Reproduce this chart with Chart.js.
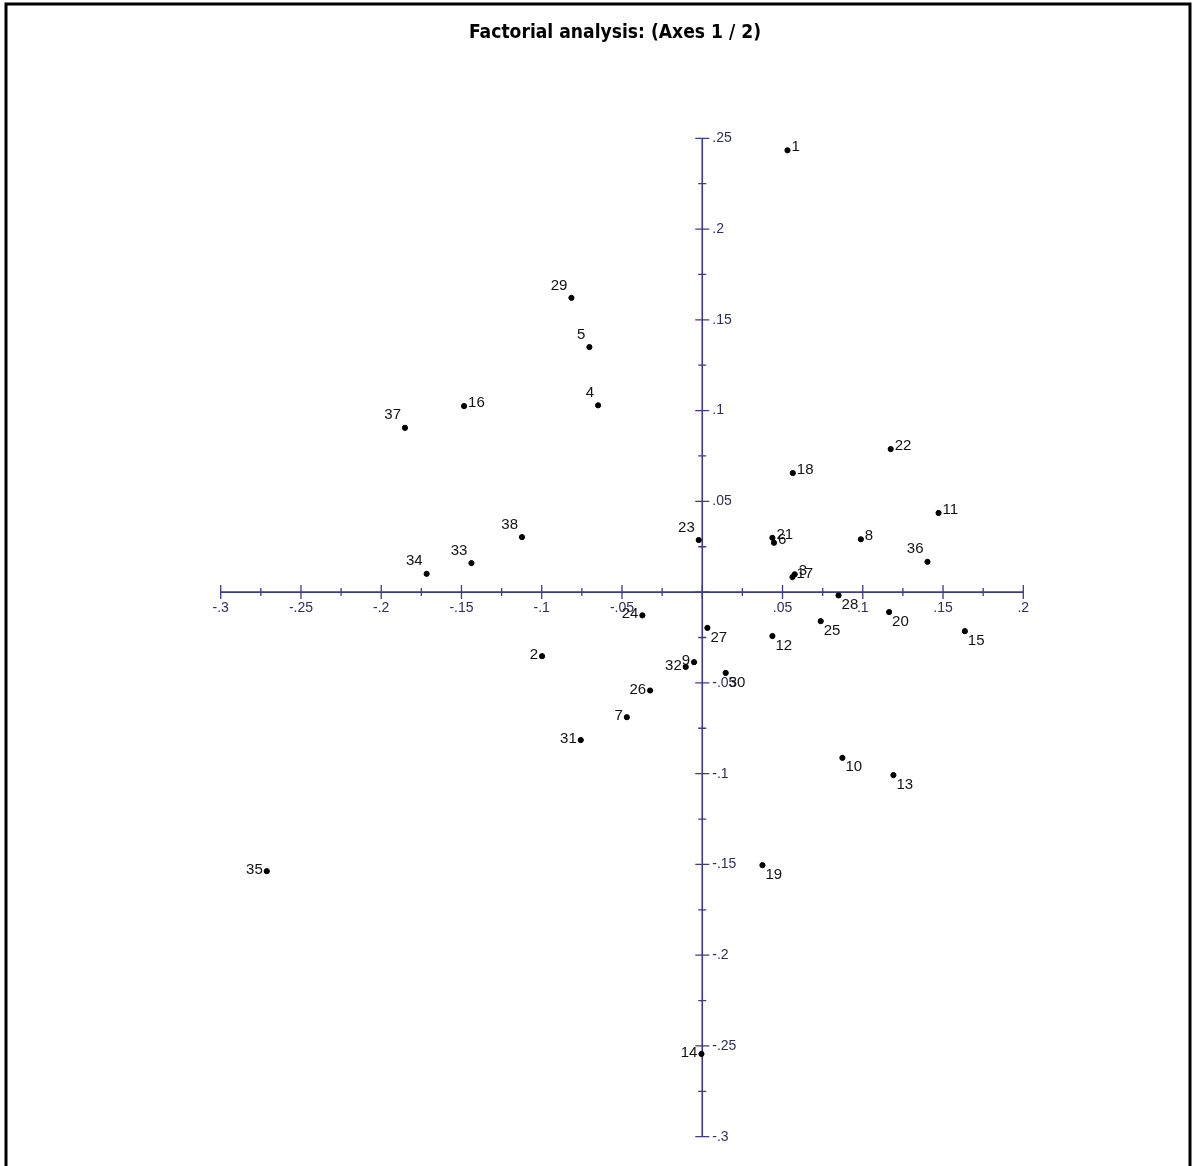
<!DOCTYPE html>
<html>
<head>
<meta charset="utf-8">
<script src="https://cdn.jsdelivr.net/npm/chart.js@4"></script>
<style>
  html, body { margin: 0; padding: 0; background: #fff; }
  #wrap { position: relative; width: 1195px; height: 1166px; }
</style>
</head>
<body>
<div id="wrap"><canvas id="factChart" width="1195" height="1166"></canvas></div>
<script>
// ---------------- data ----------------
var pointIds = [1, 2, 3, 4, 5, 6, 7, 8, 9, 10, 11, 12, 13, 14, 15, 16, 17, 18, 19,
                20, 21, 22, 23, 24, 25, 26, 27, 28, 29, 30, 31, 32, 33, 34, 35, 36, 37, 38];
var axis1 = [0.0531, -0.0998, 0.0576, -0.0649, -0.0703, 0.0447, -0.0470, 0.0988, -0.0051, 0.0873,
             0.1472, 0.0437, 0.1191, -0.0005, 0.1636, -0.1484, 0.0562, 0.0564, 0.0375, 0.1164,
             0.0437, 0.1174, -0.0022, -0.0373, 0.0738, -0.0325, 0.0032, 0.0849, -0.0815, 0.0146,
             -0.0757, -0.0103, -0.1438, -0.1717, -0.2713, 0.1403, -0.1852, -0.1123];
var axis2 = [0.2434, -0.0353, 0.0098, 0.1029, 0.1350, 0.0272, -0.0689, 0.0291, -0.0386, -0.0913,
             0.0436, -0.0242, -0.1008, -0.2544, -0.0215, 0.1025, 0.0083, 0.0656, -0.1504, -0.0110,
             0.0299, 0.0788, 0.0287, -0.0128, -0.0160, -0.0542, -0.0197, -0.0018, 0.1621, -0.0445,
             -0.0815, -0.0412, 0.0160, 0.0101, -0.1537, 0.0167, 0.0905, 0.0303];

var xTickValues = [-0.3, -0.25, -0.2, -0.15, -0.1, -0.05, 0.05, 0.1, 0.15, 0.2];
var xTickLabels = ['-.3', '-.25', '-.2', '-.15', '-.1', '-.05', '.05', '.1', '.15', '.2'];
var yTickValues = [0.25, 0.2, 0.15, 0.1, 0.05, -0.05, -0.1, -0.15, -0.2, -0.25, -0.3];
var yTickLabels = ['.25', '.2', '.15', '.1', '.05', '-.05', '-.1', '-.15', '-.2', '-.25', '-.3'];

// where each point's number sits (r = right, l = left, tl = above left, br = below right)
var labelSide = {
    1: 'r', 3: 'r', 6: 'r', 8: 'r', 11: 'r', 16: 'r', 17: 'r', 18: 'r', 21: 'r', 22: 'r',
    4: 'tl', 5: 'tl', 23: 'tl', 29: 'tl', 33: 'tl', 34: 'tl', 36: 'tl', 37: 'tl', 38: 'tl',
    10: 'br', 12: 'br', 13: 'br', 15: 'br', 19: 'br', 20: 'br', 25: 'br', 27: 'br', 28: 'br', 30: 'br',
    2: 'l', 7: 'l', 9: 'l', 14: 'l', 24: 'l', 26: 'l', 31: 'l', 32: 'l', 35: 'l'
};

var AXIS_COLOR = '#3b3b8a';
var TICK_TEXT = '#2e2e5e';
var LABEL_FONT = '15px "Liberation Sans Narrow", "Liberation Sans", Arial, sans-serif';

var points = pointIds.map(function (id, i) {
    return { x: axis1[i], y: axis2[i] };
});

// ------------------ axes through the origin, frame and title ------------------
var crossAxes = {
    id: 'crossAxes',
    beforeDatasetsDraw: function (chart) {
        var ctx = chart.ctx;
        var sx = chart.scales.x, sy = chart.scales.y;
        var x0 = sx.getPixelForValue(0), y0 = sy.getPixelForValue(0);
        ctx.save();
        ctx.strokeStyle = AXIS_COLOR;
        ctx.lineWidth = 1.6;
        ctx.beginPath();
        ctx.moveTo(sx.getPixelForValue(sx.min), y0);
        ctx.lineTo(sx.getPixelForValue(sx.max), y0);
        ctx.moveTo(x0, sy.getPixelForValue(sy.max));
        ctx.lineTo(x0, sy.getPixelForValue(sy.min));
        ctx.stroke();

        // ticks: major every .05, minor halfway
        ctx.lineWidth = 1.3;
        ctx.beginPath();
        var v, p;
        for (v = sx.min; v <= sx.max + 1e-9; v += 0.025) {
            p = sx.getPixelForValue(v);
            var major = Math.abs(Math.round(v / 0.05) * 0.05 - v) < 1e-6;
            var len = major ? 7 : 4;
            ctx.moveTo(p, y0 - len);
            ctx.lineTo(p, y0 + len);
        }
        for (v = sy.min; v <= sy.max + 1e-9; v += 0.025) {
            p = sy.getPixelForValue(v);
            var majorY = Math.abs(Math.round(v / 0.05) * 0.05 - v) < 1e-6;
            var lenY = majorY ? 7 : 4;
            ctx.moveTo(x0 - lenY, p);
            ctx.lineTo(x0 + lenY, p);
        }
        ctx.stroke();

        ctx.fillStyle = TICK_TEXT;
        ctx.font = '14px "Liberation Sans", Arial, sans-serif';
        ctx.textAlign = 'center';
        ctx.textBaseline = 'top';
        xTickValues.forEach(function (val, i) {
            ctx.fillText(xTickLabels[i], sx.getPixelForValue(val), y0 + 9);
        });
        ctx.textAlign = 'left';
        ctx.textBaseline = 'middle';
        yTickValues.forEach(function (val, i) {
            ctx.fillText(yTickLabels[i], x0 + 10, sy.getPixelForValue(val));
        });
        ctx.restore();
    },
    afterDatasetsDraw: function (chart) {
        var ctx = chart.ctx;
        var meta = chart.getDatasetMeta(0);
        ctx.save();
        ctx.fillStyle = '#111';
        ctx.font = LABEL_FONT;
        meta.data.forEach(function (el, i) {
            var id = pointIds[i];
            var side = labelSide[id] || 'r';
            var txt = String(id);
            if (side === 'r') {
                ctx.textAlign = 'left'; ctx.textBaseline = 'middle';
                ctx.fillText(txt, el.x + 4, el.y - 3);
            } else if (side === 'l') {
                ctx.textAlign = 'right'; ctx.textBaseline = 'middle';
                ctx.fillText(txt, el.x - 4, el.y - 1);
            } else if (side === 'tl') {
                ctx.textAlign = 'right'; ctx.textBaseline = 'bottom';
                ctx.fillText(txt, el.x - 4, el.y - 5);
            } else {
                ctx.textAlign = 'left'; ctx.textBaseline = 'top';
                ctx.fillText(txt, el.x + 3, el.y + 2);
            }
        });

        // title
        var title = 'Factorial analysis: (Axes 1 / 2)';
        ctx.font = 'bold 19px "Liberation Sans Narrow", "DejaVu Sans Condensed", "Liberation Sans", sans-serif';
        ctx.textAlign = 'left';
        ctx.textBaseline = 'alphabetic';
        var w = ctx.measureText(title).width;
        var target = 292;
        ctx.translate(615 - target / 2, 38);
        ctx.scale(target / w, 1);
        ctx.fillStyle = '#000';
        ctx.fillText(title, 0, 0);
        ctx.restore();

        // outer frame (left, top, right)
        ctx.save();
        ctx.strokeStyle = '#000';
        ctx.lineWidth = 3;
        ctx.beginPath();
        ctx.moveTo(6, 1166);
        ctx.lineTo(6, 4);
        ctx.lineTo(1190, 4);
        ctx.lineTo(1190, 1166);
        ctx.stroke();
        ctx.restore();
    }
};

new Chart(document.getElementById('factChart'), {
    type: 'scatter',
    data: {
        datasets: [{
            data: points,
            backgroundColor: '#000',
            borderColor: '#000',
            pointRadius: 2.6,
            pointHoverRadius: 2.6,
            clip: false
        }]
    },
    options: {
        responsive: false,
        animation: false,
        devicePixelRatio: 1,
        layout: { padding: { left: 220.7, right: 171.7, top: 138.3, bottom: 29.3 } },
        plugins: { legend: { display: false }, tooltip: { enabled: false }, title: { display: false } },
        scales: {
            x: { type: 'linear', min: -0.3, max: 0.2, display: false },
            y: { type: 'linear', min: -0.3, max: 0.25, display: false }
        }
    },
    plugins: [crossAxes]
});
</script>
</body>
</html>
